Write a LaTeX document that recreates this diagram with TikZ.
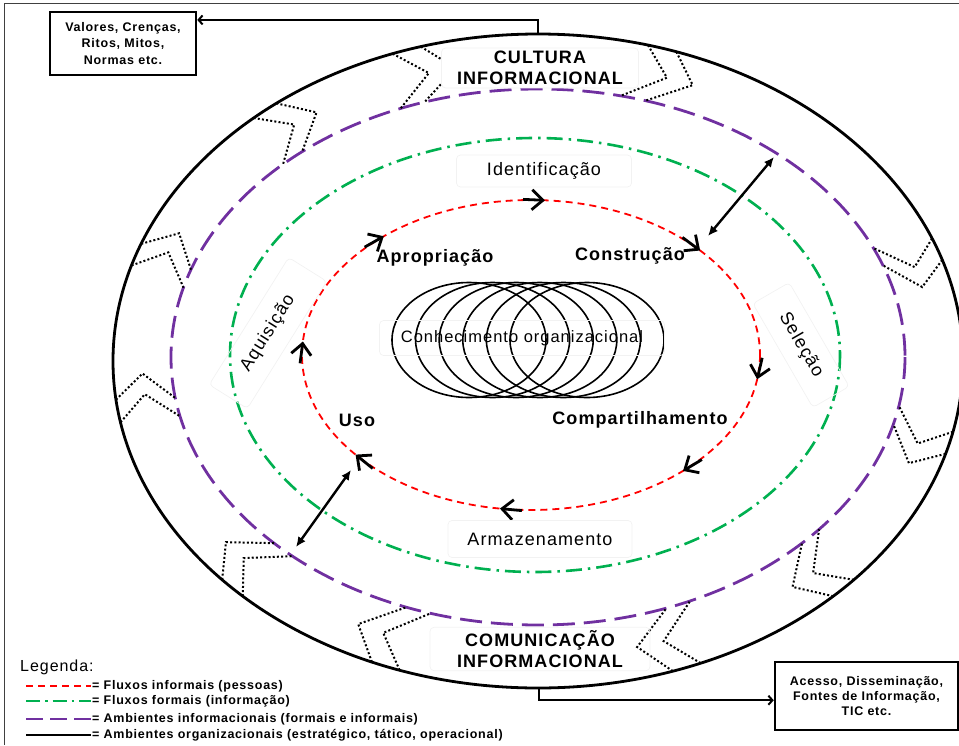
\documentclass[tikz,border=0pt]{standalone}
\usepackage{fontspec}
\setmainfont{Liberation Sans}
\newfontfamily\lsf[LetterSpace=6]{Liberation Sans}
\usetikzlibrary{arrows.meta,calc}
\definecolor{redflow}{RGB}{255,0,0}
\definecolor{greenflow}{RGB}{0,176,80}
\definecolor{purpleenv}{RGB}{112,48,160}
\begin{document}
\begin{tikzpicture}[x=1pt,y=-1pt,
  outerell/.style={line width=2.8pt},
  purpleell/.style={purpleenv,line width=2.8pt,dash pattern=on 22pt off 9pt},
  greenell/.style={greenflow,line width=2.6pt,dash pattern=on 16pt off 6pt on 2.5pt off 6pt},
  redell/.style={redflow,line width=1.8pt,dash pattern=on 7pt off 5pt},
  chev/.style={line width=2pt,dash pattern=on 2pt off 2.2pt},
  flowarrow/.style={line width=2.8pt,-{Straight Barb[length=11pt,width=20pt]}},
  dblarrow/.style={line width=2.4pt,{Latex[length=10pt,width=9pt]}-{Latex[length=10pt,width=9pt]}},
  conn/.style={line width=2pt,-{Straight Barb[length=4pt,width=9pt]}},
  infobox/.style={draw,line width=2.5pt,align=center,inner sep=0pt},
  bigbold/.style={font=\lsf\bfseries\fontsize{18}{20.5}\selectfont,align=center},
  flowlbl/.style={font=\lsf\fontsize{18}{21}\selectfont},
  faintbox/.style={draw=black!5,line width=0.7pt,rounded corners=4pt},
  legtext/.style={font=\lsf\bfseries\fontsize{12.5}{14}\selectfont,anchor=west,inner sep=1pt},
]
\useasboundingbox (0,0) rectangle (959,745);
% frame
\draw[line width=1.2pt,black!75] (4.5,745) -- (4.5,3.5) -- (959,3.5);

% central overlapping ellipses
\foreach \k in {0,...,5}{
  \draw[line width=1.6pt] ({469+23.6*\k},340) ellipse [x radius=77, y radius=57.5];
}

% main ellipses
\draw[outerell] (538,361) ellipse [x radius=425, y radius=327];
\draw[purpleell] (538,357) ellipse [x radius=367, y radius=268];
\draw[greenell] (535,355) ellipse [x radius=305, y radius=217];
\draw[redell] (531,355) ellipse [x radius=229, y radius=155];

% dotted chevrons between outer and purple ellipses
\foreach \t in {132,110,75,22,-12.5,-42,-67.5,-109,-134,-169.2,163}{
  \foreach \s in {0,4}{
    \pgfmathsetmacro\u{\t-\s}
    \draw[chev] ({538+425*cos(\u)},{361-327*sin(\u)})
      -- ({538+396*cos(\u-4)},{359-297.5*sin(\u-4)})
      -- ({538+367*cos(\u+2)},{357-268*sin(\u+2)});
  }
}

% arrows along the red flow
\foreach \t [count=\i] in {86.5,130,42.4,-9,-48.4,-97.8,-140,175}{
  \pgfmathsetmacro\ux{2.29*sin(\t)}
  \pgfmathsetmacro\uy{1.55*cos(\t)}
  \pgfmathsetmacro\nn{veclen(\ux,\uy)}
  \coordinate (fa\i) at ({531+229*cos(\t)},{355-155*sin(\t)});
  \draw[flowarrow] ($(fa\i)+({-22*\ux/\nn},{-22*\uy/\nn})$) -- (fa\i);
}

% double arrows
\coordinate (da1) at (708,236);
\coordinate (da2) at (774,157);
\draw[dblarrow] (da1) -- (da2);
\coordinate (db1) at (351,470);
\coordinate (db2) at (296,547);
\draw[dblarrow] (db1) -- (db2);

% labels
\node[bigbold,faintbox,fill=white,minimum width=197pt,minimum height=37pt] (cult) at (540,68) {CULTURA\\INFORMACIONAL};
\node[bigbold,faintbox,minimum width=220pt,minimum height=40pt] (comm) at (540,649) {COMUNICAÇÃO\\INFORMACIONAL};
\node[flowlbl,faintbox,minimum width=175pt,minimum height=32pt] (ident) at (544,171) {Identificação};
\node[flowlbl,faintbox,minimum width=184pt,minimum height=37pt] (armaz) at (540,539) {Armazenamento};
\node[flowlbl,faintbox,rotate=58,minimum width=150pt,minimum height=45pt] (aquis) at (268,333) {Aquisição};
\node[flowlbl,faintbox,rotate=-60,minimum width=120pt,minimum height=42pt] (selec) at (801,345) {Seleção};
\node[font=\lsf\fontsize{16.5}{18}\selectfont,faintbox,minimum width=285pt,minimum height=35pt] (conh) at (522,338) {Conhecimento organizacional};
\node[bigbold] (aprop) at (435,258) {Apropriação};
\node[bigbold] (constr) at (630,256) {Construção};
\node[bigbold] (uso) at (357,420) {Uso};
\node[bigbold] (compart) at (640,420) {Compartilhamento};

% side boxes
\node[infobox,font=\lsf\bfseries\fontsize{12.5}{16.5}\selectfont,minimum width=146pt,minimum height=63pt] (vbox) at (123,43.5) {Valores, Crenças,\\Ritos, Mitos,\\Normas etc.};
\node[infobox,font=\lsf\bfseries\fontsize{12.5}{15}\selectfont,minimum width=183pt,minimum height=68pt] (abox) at (866.5,696) {Acesso, Disseminação,\\Fontes de Informação,\\TIC etc.};

\coordinate (otop) at (538,34);
\coordinate (obot) at (539,687);
\draw[conn] (otop) |- ($(vbox.north east)!0.14!(vbox.south east)$);
\draw[conn] (obot) |- ($(abox.north west)!0.56!(abox.south west)$);

% legend
\node[font=\lsf\fontsize{16}{18}\selectfont,anchor=west,inner sep=0pt] (leg) at (20,667) {Legenda:};
\coordinate (l1a) at (26,686); \coordinate (l1b) at (91,686);
\coordinate (l2a) at (26,701); \coordinate (l2b) at (91,701);
\coordinate (l3a) at (26,719); \coordinate (l3b) at (91,719);
\coordinate (l4a) at (26,735); \coordinate (l4b) at (91,735);
\draw[redell] (l1a) -- (l1b);
\draw[greenflow,line width=2.4pt,dash pattern=on 14pt off 5pt on 2.5pt off 5pt] (l2a) -- (l2b);
\draw[purpleenv,line width=2.6pt,dash pattern=on 17pt off 7pt] (l3a) -- (l3b);
\draw[line width=2.4pt] (l4a) -- (l4b);
\node[legtext] (lt1) at (l1b) {= Fluxos informais (pessoas)};
\node[legtext] (lt2) at (l2b) {= Fluxos formais (informação)};
\node[legtext] (lt3) at (l3b) {= Ambientes informacionais (formais e informais)};
\node[legtext] (lt4) at (l4b) {= Ambientes organizacionais (estratégico, tático, operacional)};
\end{tikzpicture}
\end{document}
